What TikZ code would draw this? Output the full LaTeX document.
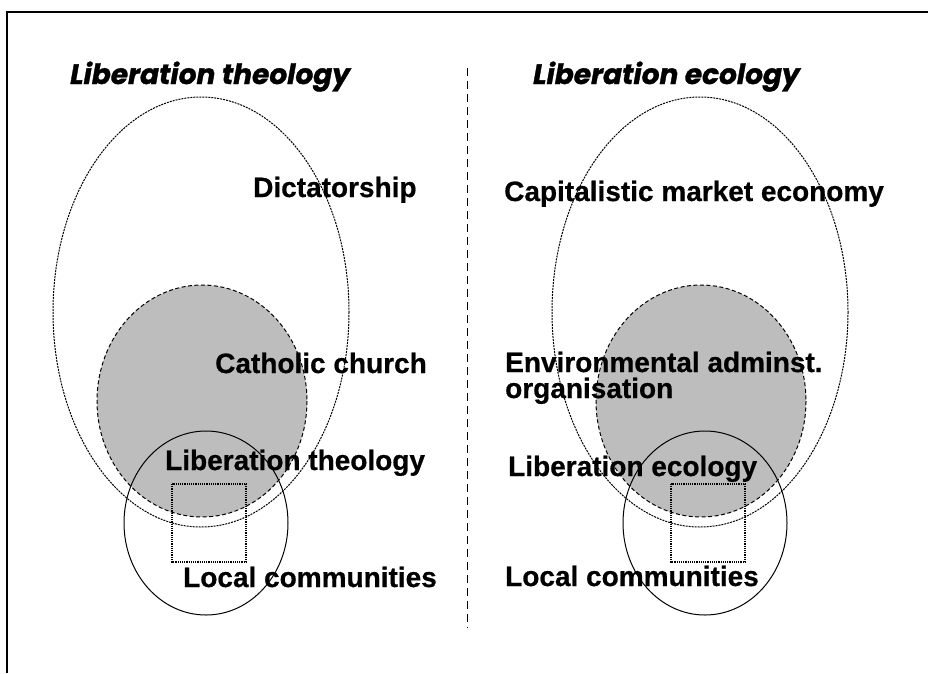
\documentclass[tikz,border=0pt]{standalone}
\usepackage{fontspec}
\setmainfont{Liberation Sans}[BoldFeatures={FakeBold=0.6}]
\newfontfamily\titlefont{Poppins}[BoldItalicFeatures={FakeBold=1.2}]
\usepackage{tikz}

\begin{document}
\begin{tikzpicture}[x=1pt,y=-1pt]
    \tikzstyle{lbl} = [font=\fontsize{28}{26}\selectfont\bfseries, inner sep=0pt, anchor=base west, align=left]
    \tikzstyle{ttl} = [font=\fontsize{28}{28}\selectfont\titlefont\bfseries\itshape, inner sep=0pt, anchor=base west]
    \tikzstyle{outerline} = [line width=1pt, dash pattern=on 2pt off 1pt]
    \tikzstyle{shadeline} = [line width=1pt, dash pattern=on 4pt off 2.5pt, fill=black!26]
    \tikzstyle{boxline} = [line width=1.2pt, densely dotted]

    \useasboundingbox (0,0) rectangle (928,673);

    % Frame, only top and left edge
    \draw[line width=1.5pt] (7,673) -- (7,12) -- (928,12);

    % Dashed divider between the two panels
    \draw[line width=1pt, dash pattern=on 8pt off 5pt] (467,68) -- (467,628);

    % Same set of shapes in both panels
    \foreach \dx in {0,499} {
        \draw[outerline] (201+\dx,312) ellipse (148 and 215);
        \draw[shadeline] (202+\dx,401) ellipse (105 and 116);
        \draw[line width=1pt] (206+\dx,523) ellipse (82 and 92);
        \draw[boxline] (172+\dx,484) rectangle (246+\dx,562);
    }

    % Left panel
    \node[ttl] (titleL) at (70,84) {Liberation theology};
    \node[lbl] (dict) at (253,197) {Dictatorship};
    \node[lbl] (church) at (215,373) {Catholic church};
    \node[lbl] (theol) at (165,470) {Liberation theology};
    \node[lbl] (localL) at (183,587) {Local communities};

    % Right panel
    \node[ttl] (titleR) at (533,84) {Liberation ecology};
    \node[lbl] (market) at (504,201) {Capitalistic market economy};
    \node[lbl] (admin) at (505,398) {Environmental adminst.\\organisation};
    \node[lbl] (ecol) at (508,476) {Liberation ecology};
    \node[lbl] (localR) at (505,586) {Local communities};
\end{tikzpicture}
\end{document}
